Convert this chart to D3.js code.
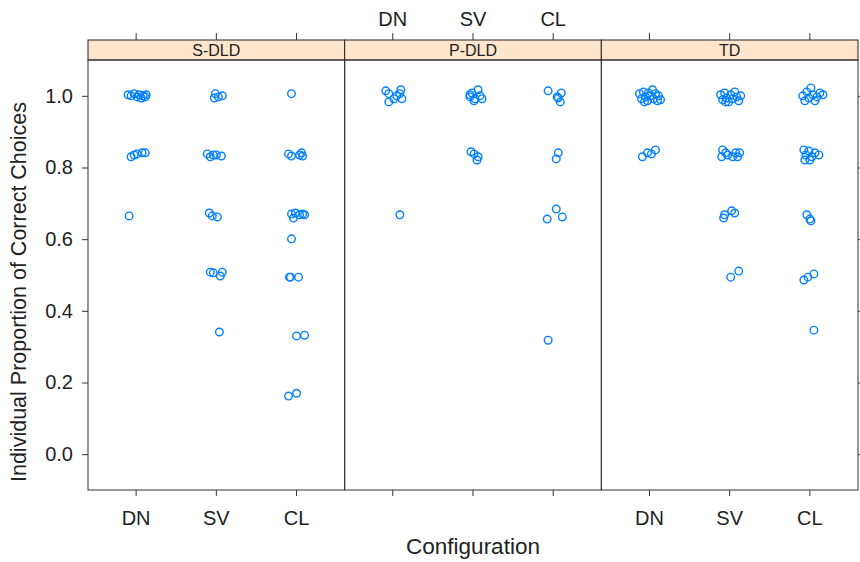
<!DOCTYPE html>
<html><head><meta charset="utf-8">
<script src="https://cdn.jsdelivr.net/npm/d3@7"></script>
<style>body{margin:0;background:#fff}svg{display:block}text{font-family:"Liberation Sans",Arial,sans-serif}</style>
</head><body>
<svg id="c" width="860" height="562"></svg>
<script>
const groups = ["S-DLD", "P-DLD", "TD"];
const configs = ["DN", "SV", "CL"];
const yTicks = [0.0, 0.2, 0.4, 0.6, 0.8, 1.0];
// each point: [jittered x offset from category (category units), proportion]
const sdld_DN = [[-0.1,1.003],[-0.063,1.0],[-0.025,1.006],[0.013,0.997],[0.038,1.003],[0.063,0.994],[0.088,1.0],[0.113,0.997],[0.125,1.003],
  [-0.063,0.830],[-0.025,0.835],[0.013,0.838],[0.075,0.841],[0.113,0.841],[-0.088,0.665]];
const sdld_SV = [[-0.025,0.994],[-0.013,1.006],[0.075,1.0],[0.025,0.997],
  [-0.113,0.838],[-0.075,0.830],[-0.038,0.835],[0,0.835],[0.063,0.832],
  [-0.088,0.673],[-0.05,0.665],[0.013,0.662],
  [-0.075,0.508],[-0.038,0.506],[0.05,0.497],[0.075,0.508],[0.038,0.341]];
const sdld_CL = [[-0.063,1.006],
  [-0.1,0.838],[-0.063,0.832],[0.038,0.835],[0.075,0.832],[0.063,0.841],
  [-0.063,0.670],[-0.013,0.673],[0.038,0.668],[0.075,0.670],[-0.038,0.659],[0.1,0.668],
  [-0.063,0.601],[-0.088,0.494],[-0.075,0.494],[0.025,0.494],
  [0,0.330],[0.1,0.332],[-0.1,0.162],[0,0.170]];
const pdld_DN = [[-0.088,1.014],[-0.05,1.006],[-0.05,0.983],[0.013,0.992],[0.05,1.0],[0.1,1.017],[0.113,0.992],[0.088,1.006],[0.088,0.668]];
const pdld_SV = [[-0.038,0.997],[-0.013,1.008],[0.025,0.992],[0.063,1.017],[0.088,1.0],[0.113,0.992],[0.013,0.986],[-0.038,1.003],
  [-0.025,0.844],[0.013,0.838],[0.05,0.821],[0.063,0.830]];
const pdld_CL = [[-0.063,1.014],[0.1,1.008],[0.063,0.994],[0.088,0.983],[0.05,0.997],
  [0.063,0.841],[0.038,0.824],[-0.075,0.656],[0.038,0.684],[0.113,0.662],[-0.063,0.318]];
const td_DN = [[-0.125,1.006],[-0.1,0.992],[-0.075,1.011],[-0.05,0.997],[-0.025,0.986],[-0.013,1.008],[0.013,1.0],[0.038,1.017],[0.05,0.992],[0.075,1.006],[0.1,0.986],[0.113,1.0],[0.138,0.989],[-0.063,0.983],
  [-0.088,0.830],[-0.025,0.841],[0.025,0.838],[0.075,0.849]];
const td_SV = [[-0.113,1.003],[-0.088,0.989],[-0.063,1.008],[-0.038,0.994],[-0.013,0.983],[0.013,1.003],[0.038,0.992],[0.063,1.011],[0.088,0.997],[0.113,0.986],[0.138,1.0],[-0.05,0.983],
  [-0.088,0.849],[-0.1,0.830],[-0.025,0.835],[0.038,0.830],[0.075,0.841],[0.1,0.830],[0.125,0.841],[-0.05,0.841],
  [-0.075,0.659],[-0.063,0.668],[0.025,0.679],[0.063,0.673],[0.013,0.494],[0.113,0.511]];
const td_CL = [[-0.088,1.0],[-0.063,0.986],[-0.038,1.011],[-0.013,0.994],[0.013,1.022],[0.038,1.003],[0.063,0.986],[0.088,0.997],[0.125,1.008],[0.163,1.003],
  [-0.075,0.849],[-0.05,0.835],[-0.013,0.846],[0.025,0.830],[0.063,0.841],[0.113,0.835],[-0.063,0.821],[0,0.821],
  [-0.038,0.668],[0,0.656],[0.013,0.651],[-0.075,0.486],[-0.025,0.494],[0.05,0.503],[0.05,0.346]];

const panelData = {
  "S-DLD": [sdld_DN, sdld_SV, sdld_CL],
  "P-DLD": [pdld_DN, pdld_SV, pdld_CL],
  "TD": [td_DN, td_SV, td_CL]
};

const svg = d3.select("#c");
const L = 88, R = 858, T = 60, B = 490, stripH = 20;
const pw = (R - L) / groups.length;
const panelX = d3.scaleBand().domain(groups).range([L, R]).paddingInner(0).paddingOuter(0);
const y = d3.scaleLinear().domain([-0.1, 1.1]).range([B, T]);
const col = "#0080ff";

groups.forEach((g, gi) => {
  const x0 = panelX(g);
  const x = d3.scaleLinear().domain([0.4, 3.6]).range([x0, x0 + pw]);
  const gp = svg.append("g");
  gp.append("rect").attr("x", x0).attr("y", T - stripH).attr("width", pw).attr("height", stripH)
    .attr("fill", "#ffe5cc").attr("stroke", "#222").attr("stroke-width", 1);
  gp.append("text").attr("x", x0 + pw / 2).attr("y", T - stripH / 2 + 5.5).attr("text-anchor", "middle")
    .attr("font-size", 16).attr("fill", "#222").text(g);
  gp.append("rect").attr("x", x0).attr("y", T).attr("width", pw).attr("height", B - T)
    .attr("fill", "none").attr("stroke", "#333").attr("stroke-width", 1);
  configs.forEach((c, ci) => {
    const xp = x(ci + 1);
    gp.append("line").attr("x1", xp).attr("x2", xp).attr("y1", B).attr("y2", B + 6).attr("stroke", "#333");
    gp.append("line").attr("x1", xp).attr("x2", xp).attr("y1", T - stripH).attr("y2", T - stripH - 7).attr("stroke", "#333");
    if (gi !== 1) {
      gp.append("text").attr("x", xp).attr("y", B + 35).attr("text-anchor", "middle").attr("font-size", 20).attr("fill", "#222").text(c);
    } else {
      gp.append("text").attr("x", xp).attr("y", 26).attr("text-anchor", "middle").attr("font-size", 20).attr("fill", "#222").text(c);
    }
  });
  panelData[g].forEach((pts, ci) => {
    gp.selectAll(null).data(pts).enter().append("circle")
      .attr("cx", d => x(ci + 1 + d[0])).attr("cy", d => y(d[1])).attr("r", 3.8)
      .attr("fill", "none").attr("stroke", col).attr("stroke-width", 1.4);
  });
});

const ax = svg.append("g").attr("transform", `translate(${L},0)`)
  .call(d3.axisLeft(y).tickValues(yTicks).tickFormat(d3.format(".1f")).tickSize(6).tickPadding(9));
ax.select(".domain").remove();
ax.selectAll("text").attr("font-size", 20).attr("fill", "#222").attr("font-family", "Liberation Sans, Arial, sans-serif");
ax.selectAll("line").attr("stroke", "#333");
const axr = svg.append("g").attr("transform", `translate(${R},0)`)
  .call(d3.axisRight(y).tickValues(yTicks).tickFormat("").tickSize(6));
axr.select(".domain").remove();
axr.selectAll("line").attr("stroke", "#333");

svg.append("text").attr("transform", `translate(26,${292}) rotate(-90)`).attr("text-anchor", "middle")
  .attr("font-size", 21.5).attr("fill", "#222").text("Individual Proportion of Correct Choices");
svg.append("text").attr("x", (L + R) / 2).attr("y", 554).attr("text-anchor", "middle")
  .attr("font-size", 22.5).attr("fill", "#222").text("Configuration");
</script>
</body></html>
